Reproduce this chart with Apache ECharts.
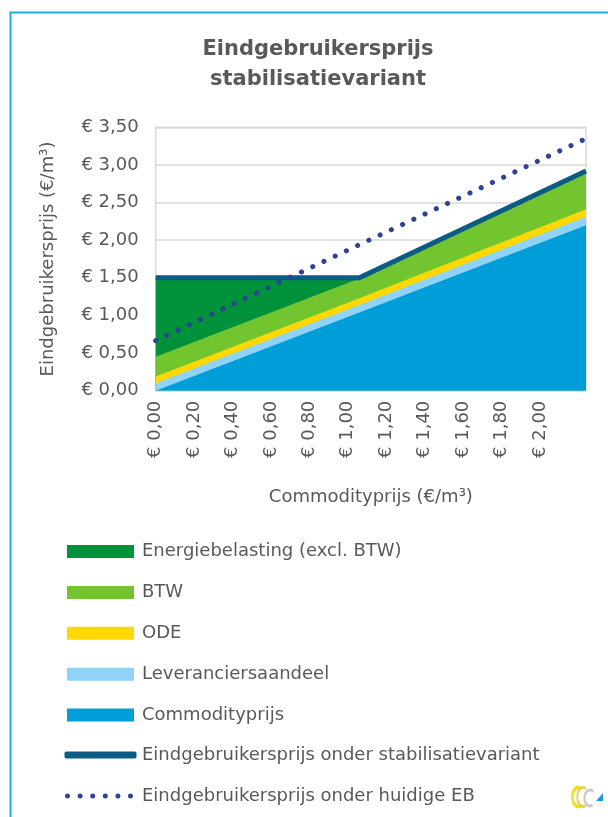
<!DOCTYPE html>
<html>
<head>
<meta charset="utf-8">
<script src="https://cdn.jsdelivr.net/npm/echarts@6/dist/echarts.min.js"></script>
<style>
html,body{margin:0;padding:0;background:#fff;}
#chart{width:608px;height:817px;}
</style>
</head>
<body>
<div id="chart"></div>
<script>
// ---- data ----
const titleLines = ['Eindgebruikersprijs', 'stabilisatievariant'];
const xAxisTitle = 'Commodityprijs (€/m³)';
const yAxisTitle = 'Eindgebruikersprijs (€/m³)';
const seriesNames = [
  'Energiebelasting (excl. BTW)',
  'BTW',
  'ODE',
  'Leveranciersaandeel',
  'Commodityprijs',
  'Eindgebruikersprijs onder stabilisatievariant',
  'Eindgebruikersprijs onder huidige EB'
];
// commodity price (x) at the points where the lines change direction
const xValues = [0.00, 1.06, 2.24];
// stacked components (€/m³)
const commodity   = [0.00, 1.04, 2.20];
const leverancier = [0.10, 0.10, 0.11];
const ode         = [0.09, 0.09, 0.10];
const btw         = [0.26, 0.26, 0.51];
const eb          = [1.05, 0.00, 0.00];
// lines
const stabTotal   = [1.50, 1.50, 2.92];
const huidigeEB   = [0.665, 1.94, 3.35];
const yTicks = { min: 0, max: 3.5, interval: 0.5 };
const xTicks = { min: 0, max: 2.24, interval: 0.2, lastLabel: 2.0 };

// ---- build ----
const TXT = '#595959';
const FONT = 'DejaVu Sans';
const colors = ['#00923A', '#72C52E', '#FFD800', '#8FD3F8', '#009ED9', '#0A5C85', '#2F4396'];
const eur = v => '€ ' + v.toFixed(2).replace('.', ',');

// cumulative tops so each area is drawn from 0 with the upper ones first
const layers = [commodity, leverancier, ode, btw, eb];
function cumTop(nLayers) {
  return xValues.map((x, i) => {
    let s = 0;
    for (let k = 0; k < nLayers; k++) s += layers[k][i];
    return [x, +s.toFixed(4)];
  });
}
const areaSeries = [5, 4, 3, 2, 1].map((n, idx) => ({
  name: seriesNames[idx],
  type: 'line',
  data: cumTop(n),
  color: colors[idx],
  showSymbol: false,
  symbol: 'none',
  lineStyle: { width: 0 },
  areaStyle: { color: colors[idx], opacity: 1 },
  silent: true
}));
const pairs = arr => xValues.map((x, i) => [x, arr[i]]);

function dotsPath() {
  let p = '';
  for (let k = 0; k < 6; k++) {
    const cx = 2.5 + k * 12.6;
    p += 'M' + (cx - 2.5) + ' 2.5 a2.5 2.5 0 1 0 5 0 a2.5 2.5 0 1 0 -5 0 Z ';
  }
  return 'path://' + p;
}

const chart = echarts.init(document.getElementById('chart'), null, { renderer: 'canvas' });
const legendText = { color: TXT, fontFamily: FONT, fontSize: 18, lineHeight: 22, padding: [0, 0, 0, 3] };
chart.setOption({
  backgroundColor: '#fff',
  animation: false,
  title: {
    text: titleLines.join('\n'),
    left: 313, top: 30, textAlign: 'center',
    textStyle: { color: TXT, fontFamily: FONT, fontSize: 21, fontWeight: 'bold', lineHeight: 30 }
  },
  grid: { left: 155.7, right: 22, top: 127.3, bottom: 426.3, show: true, borderColor: '#D9D9D9', borderWidth: 1.5, backgroundColor: 'transparent' },
  xAxis: {
    type: 'value', min: xTicks.min, max: xTicks.max, interval: xTicks.interval,
    name: xAxisTitle, nameLocation: 'middle', nameGap: 98,
    nameTextStyle: { color: TXT, fontFamily: FONT, fontSize: 18 },
    axisLine: { show: false }, axisTick: { show: false }, splitLine: { show: false },
    axisLabel: {
      rotate: 90, margin: 10, color: TXT, fontFamily: FONT, fontSize: 18,
      showMaxLabel: false,
      formatter: v => (v > xTicks.lastLabel + 0.001 ? '' : eur(v))
    }
  },
  yAxis: {
    type: 'value', min: yTicks.min, max: yTicks.max, interval: yTicks.interval,
    name: yAxisTitle, nameLocation: 'middle', nameGap: 98, nameRotate: 90,
    nameTextStyle: { color: TXT, fontFamily: FONT, fontSize: 18 },
    axisLine: { show: false }, axisTick: { show: false },
    splitLine: { lineStyle: { color: '#D9D9D9', width: 1.5 } },
    axisLabel: { margin: 17, color: TXT, fontFamily: FONT, fontSize: 18, formatter: v => eur(v) }
  },
  legend: [
    {
      data: seriesNames.slice(0, 5).map(n => ({ name: n, icon: 'rect' })),
      orient: 'vertical', left: 67, top: 540.5, padding: 0, itemWidth: 67, itemHeight: 13, itemGap: 18.9,
      textStyle: legendText, selectedMode: false
    },
    {
      data: [{ name: seriesNames[5], icon: 'roundRect' }],
      orient: 'vertical', left: 64.5, top: 744, padding: 0, itemWidth: 72, itemHeight: 7,
      textStyle: Object.assign({}, legendText, { padding: [0, 0, 0, 0.5] }), selectedMode: false
    },
    {
      data: [{ name: seriesNames[6], icon: dotsPath() }],
      orient: 'vertical', left: 65, top: 785, padding: 0, itemWidth: 68, itemHeight: 5,
      textStyle: Object.assign({}, legendText, { padding: [0, 0, 0, 4] }), selectedMode: false
    }
  ],
  series: areaSeries.concat([
    {
      name: seriesNames[5], type: 'line', data: pairs(stabTotal), color: colors[5],
      showSymbol: false, symbol: 'none',
      lineStyle: { color: colors[5], width: 5, join: 'round' }, silent: true
    },
    {
      name: seriesNames[6], type: 'line', data: pairs(huidigeEB), color: colors[6],
      showSymbol: false, symbol: 'none',
      lineStyle: { color: colors[6], width: 5, type: [0.1, 12.3], cap: 'round' }, silent: true
    }
  ]),
  graphic: [
    { type: 'rect', silent: true, shape: { x: 10.5, y: 12.5, width: 800, height: 900 },
      style: { fill: 'none', stroke: '#1DAEE2', lineWidth: 2 }, z: 100 },
    { type: 'group', x: 572, y: 786, silent: true, children: [
      { type: 'arc', scaleX: 0.6, x: 6, y: 11, shape: { cx: 0, cy: 0, r: 9.5, startAngle: Math.PI / 3, endAngle: -Math.PI / 3, clockwise: true },
        style: { fill: 'none', stroke: '#F2DA1E', lineWidth: 4 } },
      { type: 'arc', scaleX: 0.6, x: 11, y: 11, shape: { cx: 0, cy: 0, r: 9.5, startAngle: Math.PI / 3, endAngle: -Math.PI / 3, clockwise: true },
        style: { fill: 'none', stroke: '#E5D44A', lineWidth: 3 } },
      { type: 'arc', scaleX: 0.7, x: 18, y: 12, shape: { cx: 0, cy: 0, r: 8, startAngle: Math.PI * 0.35, endAngle: -Math.PI * 0.3, clockwise: true },
        style: { fill: 'none', stroke: '#C9C9C9', lineWidth: 3 } },
      { type: 'polygon', shape: { points: [[24, 15], [31, 7], [31, 15]] }, style: { fill: '#1E9AD6' } }
    ]}
  ]
});
</script>
</body>
</html>
